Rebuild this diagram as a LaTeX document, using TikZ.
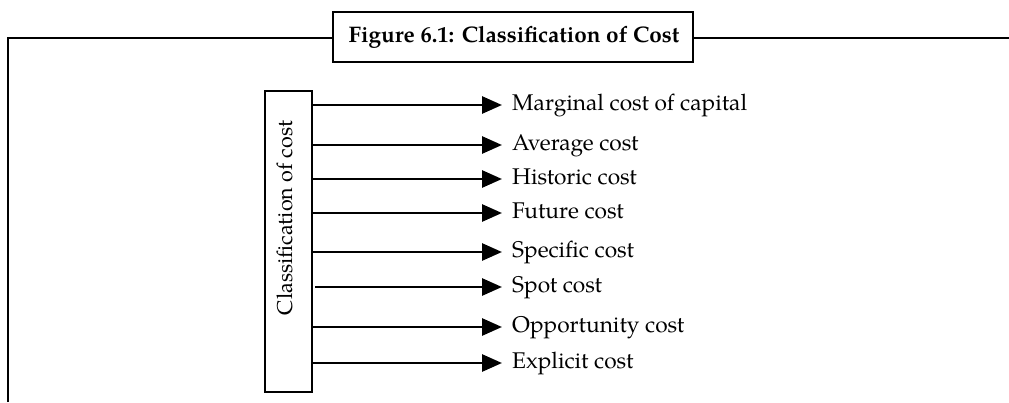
\documentclass[tikz,border=0pt]{standalone}
\usepackage{fontspec}
\setmainfont{TeX Gyre Pagella}
\usetikzlibrary{arrows.meta}
\begin{document}
\begin{tikzpicture}[x=1pt,y=-1pt,
  frameline/.style={line width=2.4pt},
  boxstyle/.style={draw,line width=2.8pt,inner sep=0pt},
  arr/.style={line width=2.8pt,-{Triangle[length=20pt,width=17pt]}},
  item/.style={anchor=base west,inner sep=0pt,font=\fontsize{22.7}{26}\selectfont},
]
\useasboundingbox (0,0) rectangle (1009,402);
% title box
\node[boxstyle,minimum width=360pt,minimum height=50pt] (title) at (513,37) {};
\node[inner sep=0pt,font=\fontsize{22.5}{26}\selectfont\bfseries] (ttext) at (514,37) {Figure 6.1: Classification of Cost};
\coordinate (fbl) at (8,402);
\coordinate (ftl) at (8,38);
\coordinate (fr) at (1009,38);
\draw[frameline] (fbl) -- (ftl) -- (title.west |- ftl);
\draw[frameline] (title.east |- fr) -- (fr);
% vertical box
\node[boxstyle,minimum width=47pt,minimum height=301pt] (cls) at (288.5,241.5) {};
\node[rotate=90,inner sep=0pt,font=\fontsize{21.5}{24}\selectfont] (clstext) at (285,218) {Classification of cost};
% items
\foreach \y/\t/\n/\s in {105/Marginal cost of capital/a/0,
                       145/Average cost/b/0,
                       179/Historic cost/c/0,
                       213/Future cost/d/0,
                       252/Specific cost/e/0,
                       287/Spot cost/f/2,
                       327/Opportunity cost/g/0,
                       363/Explicit cost/h/0}{
  \node[item] (l\n) at (512,\y+5) {\t};
  \coordinate (s\n) at (cls.east |- 0,\y);
  \coordinate (e\n) at (502,\y);
  \draw[arr] ([xshift=\s pt]s\n) -- (e\n);
}
\end{tikzpicture}
\end{document}
